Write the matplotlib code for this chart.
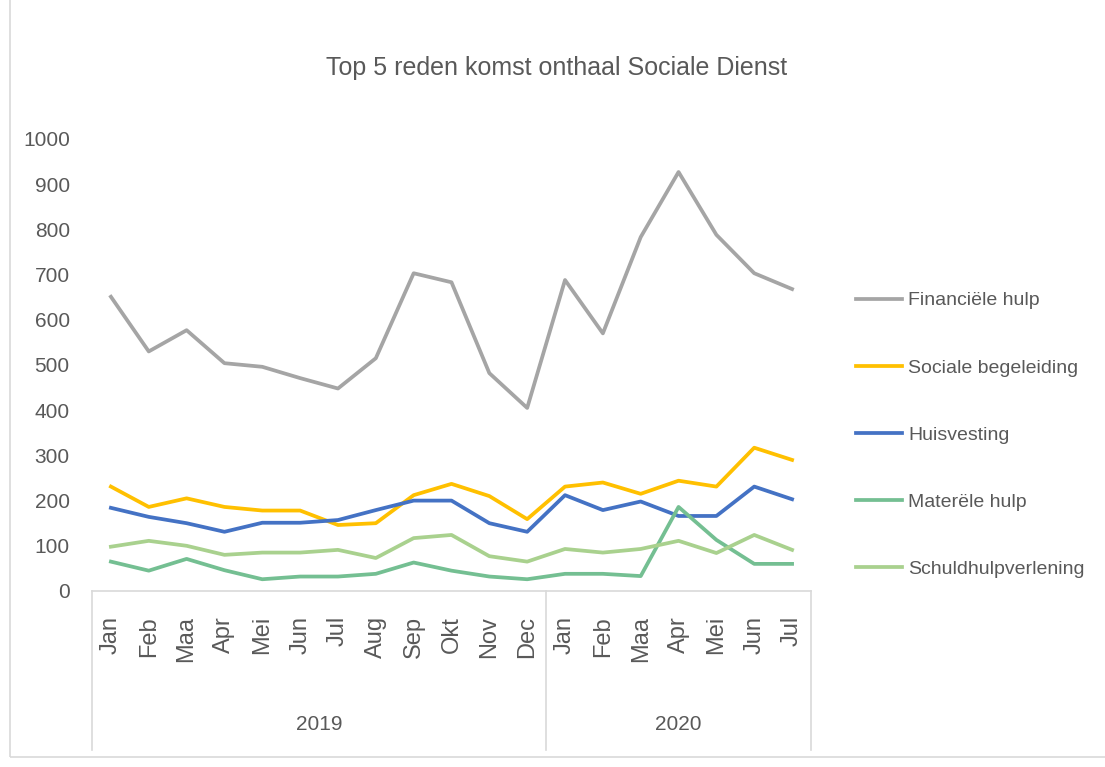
import numpy as np
import matplotlib
matplotlib.use("Agg")
from matplotlib import pyplot as plt
from matplotlib.patches import Rectangle

plt.rcParams['font.family'] = ['Liberation Sans', 'DejaVu Sans']

months = ["Jan", "Feb", "Maa", "Apr", "Mei", "Jun", "Jul", "Aug", "Sep", "Okt", "Nov", "Dec",
          "Jan", "Feb", "Maa", "Apr", "Mei", "Jun", "Jul"]
years = ["2019", "2020"]
year_counts = [12, 7]

financiele = [651, 530, 577, 504, 496, 471, 448, 515, 703, 683, 482, 405,
              688, 570, 783, 927, 788, 703, 668]
sociale = [231, 186, 205, 186, 178, 178, 146, 150, 212, 237, 210, 159,
           231, 240, 215, 244, 231, 317, 290]
huisvesting = [184, 164, 150, 131, 151, 151, 157, 179, 200, 200, 150, 131,
               212, 179, 198, 166, 166, 231, 203]
materiele = [65, 45, 71, 46, 26, 32, 32, 38, 63, 45, 32, 26,
             38, 38, 33, 186, 113, 60, 60]
schuld = [98, 111, 100, 80, 85, 85, 91, 73, 117, 124, 77, 65,
          93, 85, 93, 111, 84, 124, 91]

series = [
    ("Financiële hulp", financiele, "#A5A5A5"),
    ("Sociale begeleiding", sociale, "#FFC000"),
    ("Huisvesting", huisvesting, "#4472C4"),
    ("Materële hulp", materiele, "#74BF92"),
    ("Schuldhulpverlening", schuld, "#A9D18E"),
]

fig = plt.figure(figsize=(11.05, 7.67), dpi=100)
ax = fig.add_axes([92/1105, 1-591/767, (811-92)/1105, (591-139)/767])

# light chart border
fig.patches.append(Rectangle((10/1105, 1-757/767), 1.2, 1.2, transform=fig.transFigure,
                             fill=False, edgecolor="#D9D9D9", linewidth=1.2))

x = np.arange(len(months))
for name, vals, col in series:
    ax.plot(x, vals, color=col, linewidth=2.7, label=name)

ax.set_xlim(-0.5, len(months) - 0.5)
ax.set_ylim(0, 1000)
ax.set_yticks(range(0, 1001, 100))
ax.tick_params(axis='y', length=0, pad=16, labelsize=15, labelcolor="#595959")
ax.set_xticks(x)
ax.set_xticklabels(months, rotation=90, va='top', ha='center')
ax.tick_params(axis='x', length=0, pad=18, labelsize=17, labelcolor="#595959")
for s in ["top", "right", "left"]:
    ax.spines[s].set_visible(False)
ax.spines["bottom"].set_color("#D9D9D9")
ax.spines["bottom"].set_linewidth(1.2)

# year group separators and labels
tr = ax.get_xaxis_transform()
start = -0.5
ax.plot([start, start], [0, -0.352], transform=tr, color="#D9D9D9", lw=1.2, clip_on=False)
for yr, n in zip(years, year_counts):
    end = start + n
    ax.plot([end, end], [0, -0.352], transform=tr, color="#D9D9D9", lw=1.2, clip_on=False)
    ax.text((start + end) / 2, -0.296, yr, transform=tr, ha='center', va='center',
            fontsize=15, color="#595959")
    start = end

fig.text(557/1105, 1-68/767, "Top 5 reden komst onthaal Sociale Dienst", ha='center', va='center',
         fontsize=18, color="#595959")

fig.legend(loc='center left', bbox_to_anchor=(838/1105, 1-435/767), frameon=False,
           fontsize=14, labelcolor="#595959", handlelength=2.4, handletextpad=0.3,
           labelspacing=2.55)

fig.savefig("out.png", dpi=100)
